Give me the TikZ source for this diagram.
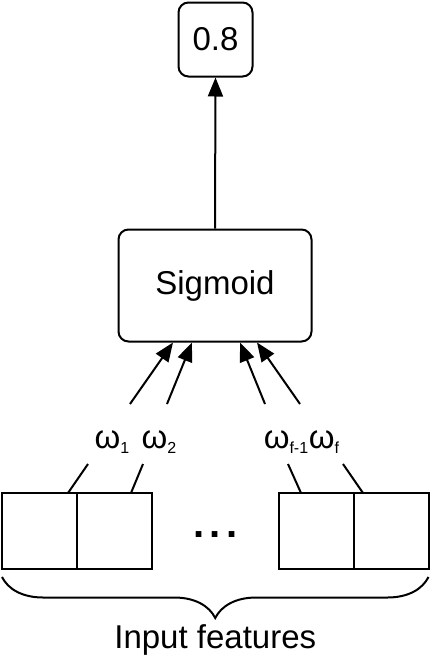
\documentclass[tikz,border=0pt]{standalone}
\usepackage{fontspec}
\setmainfont{Liberation Sans}
\usetikzlibrary{arrows.meta,positioning,decorations.pathreplacing}

\newcommand{\wsub}[1]{\raisebox{-5pt}{\fontsize{16}{16}\selectfont #1}}

\begin{document}
\begin{tikzpicture}[x=1pt,y=-1pt,->,>={Triangle[length=19pt,width=15pt]},line width=2pt,
  box node/.style={draw,rounded corners=10pt,inner sep=0pt,font=\fontsize{33}{36}\selectfont},
  cell node/.style={draw,minimum width=75pt,minimum height=76pt,inner sep=0pt,outer sep=0pt},
  weight node/.style={inner sep=0pt,font=\fontsize{33}{36}\selectfont}]

            \useasboundingbox (0,0) rectangle (431,667);

            \node[box node, minimum width=74pt, minimum height=74pt] (out) at (215.5,39.5) {0.8};
            \node[box node, minimum width=193pt, minimum height=112pt] (sig) at (215,285.5) {Sigmoid};

            \node[cell node] (c1) at (39.5,531) {};
            \node[cell node] (c2) [right=0pt of c1] {};
            \node[cell node] (c4) at (391,531) {};
            \node[cell node] (c3) [left=0pt of c4] {};
            \node[inner sep=0pt, font=\fontsize{40}{40}\selectfont\bfseries] (dots) at (215.5,535) {.\hspace{5.5pt}.\hspace{5.5pt}.};

            \node[weight node] (w1) at (112,442) {ω\wsub{1}};
            \node[weight node] (w2) at (159,442) {ω\wsub{2}};
            \node[weight node] (w3) at (286,442) {ω\wsub{f-1}};
            \node[weight node] (w4) at (324,442) {ω\wsub{f}};

            % arrow tails above the labels
            \coordinate (a1) at (130,404);
            \coordinate (a2) at (167,404);
            \coordinate (a3) at (265,404);
            \coordinate (a4) at (300,404);
            % ends of the lines below the labels
            \coordinate (b1) at (88,464);
            \coordinate (b2) at (143,464);
            \coordinate (b3) at (288,464);
            \coordinate (b4) at (343,464);

            \draw (sig.north) -- (out.south);
            \draw (a1) -- (sig.south -| 173,0);
            \draw (a2) -- (sig.south -| 192,0);
            \draw (a3) -- (sig.south -| 240,0);
            \draw (a4) -- (sig.south -| 257,0);

            \path[-]
                (b1) edge (c1.north -| 68,0)
                (b2) edge (c2.north -| 131,0)
                (b3) edge (c3.north -| 301,0)
                (b4) edge (c4.north -| 363,0)
            ;

            \draw[-, decorate, decoration={brace, mirror, amplitude=41pt, aspect=0.5}]
                (c1.south west |- 0,577) -- (c4.south east |- 0,577)
                node[midway, below=47pt, inner sep=0pt, font=\fontsize{33}{36}\selectfont] (lbl) {Input features};
        \end{tikzpicture}
\end{document}
